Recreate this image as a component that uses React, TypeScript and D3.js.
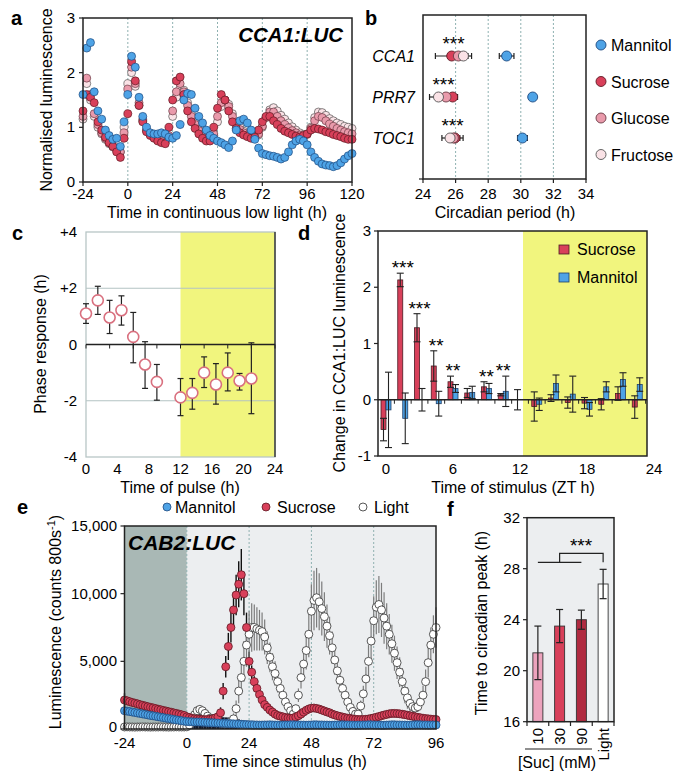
import React from 'react';
import * as d3 from 'd3';

const FONT = '"Liberation Sans", Arial, Helvetica, sans-serif';

// ---------- Panel a : CCA1:LUC normalised luminescence (t = -24..120, every 2 h)
const aTimes = d3.range(-24, 121, 2);
const aMannitol = [
  1.6, 2.45, 2.55, 1.65, 1.3, 1.15, 0.95, 0.85, 0.78, 0.8, 0.65, 1.1,
  1.6, 2.3, 2.1, 1.55, 1.2, 1.0, 0.9, 0.88, 0.88, 0.9, 0.88, 0.82,
  0.8, 0.85, 1.05, 1.5, 1.62, 1.6, 1.35, 1.2, 1.08, 0.95, 0.85, 0.8,
  0.75, 0.72, 0.68, 0.63, 0.75, 0.95, 1.12, 1.15, 1.08, 0.95, 0.78, 0.62,
  0.52, 0.5, 0.48, 0.47, 0.45, 0.42, 0.45, 0.55, 0.68, 0.75, 0.78, 0.75,
  0.68, 0.55, 0.45, 0.38, 0.33, 0.31, 0.3, 0.28, 0.3, 0.35, 0.42, 0.48,
  0.52,
];
const aSucrose = [
  1.3, 1.6, 1.55, 1.45, 1.1, 0.95, 0.82, 0.72, 0.65, 0.55, 0.45, 0.8,
  1.25, 2.2, 1.85, 1.4, 1.1, 0.92, 0.85, 0.8, 0.75, 0.72, 0.7, 1.0,
  1.5, 1.85, 1.92, 1.6, 1.3, 1.1, 0.98, 0.88, 0.8, 0.75, 0.75, 1.0,
  1.35, 1.6, 1.5, 1.3, 1.1, 0.98, 0.9, 0.86, 0.83, 0.8, 0.82, 0.95,
  1.1, 1.2, 1.2, 1.12, 1.05, 0.98, 0.93, 0.9, 0.87, 0.84, 0.82, 0.85,
  0.88, 0.95, 0.98, 0.97, 0.95, 0.92, 0.9, 0.87, 0.85, 0.83, 0.8, 0.78,
  0.78,
];
const aGlucose = [
  1.2, 1.9, 1.6, 1.25, 1.05, 0.9, 0.8, 0.72, 0.66, 0.6, 0.55, 0.9,
  1.7, 2.1, 1.8, 1.45, 1.15, 0.95, 0.87, 0.82, 0.78, 0.75, 0.72, 0.85,
  1.3, 1.65, 1.8, 1.65, 1.4, 1.2, 1.05, 0.94, 0.86, 0.8, 0.78, 0.88,
  1.2, 1.45, 1.5, 1.38, 1.2, 1.05, 0.96, 0.9, 0.86, 0.83, 0.82, 0.88,
  1.02, 1.18, 1.28, 1.28, 1.2, 1.12, 1.05, 0.99, 0.94, 0.9, 0.86, 0.84,
  0.87, 0.98, 1.12, 1.2, 1.18, 1.12, 1.06, 1.02, 0.98, 0.95, 0.92, 0.9,
  0.88,
];
const aFructose = [
  1.15, 1.8, 1.5, 1.2, 1.0, 0.88, 0.78, 0.7, 0.64, 0.6, 0.55, 1.0,
  1.8, 2.0, 1.75, 1.4, 1.12, 0.95, 0.88, 0.83, 0.8, 0.76, 0.74, 0.82,
  1.2, 1.55, 1.72, 1.68, 1.45, 1.25, 1.08, 0.96, 0.88, 0.82, 0.8, 0.85,
  1.1, 1.38, 1.5, 1.42, 1.25, 1.1, 1.0, 0.93, 0.88, 0.85, 0.83, 0.86,
  1.0, 1.18, 1.32, 1.36, 1.3, 1.22, 1.15, 1.08, 1.01, 0.95, 0.9, 0.87,
  0.88, 1.0, 1.18, 1.28, 1.27, 1.22, 1.16, 1.12, 1.08, 1.05, 1.02, 1.0,
  0.98,
];
const aTicksX = [-24, 0, 24, 48, 72, 96, 120];
const aTicksY = [0, 1, 2, 3];

// ---------- Panel b : circadian period
const bGenes = ['CCA1', 'PRR7', 'TOC1'];
const bSugars = ['Mannitol', 'Sucrose', 'Glucose', 'Fructose'];
const bMannitol = [29.13, 30.73, 30.1];
const bSucrose = [25.76, 25.82, 25.96];
const bGlucose = [26.17, 25.41, 25.86];
const bFructose = [26.48, 24.95, 25.66];
const bErrMannitol = [0.45, 0.15, 0.3];
const bErrSucrose = [1.0, 0.3, 0.5];
const bErrGlucose = [0.4, 0.3, 0.4];
const bErrFructose = [0.5, 0.55, 0.5];
const bTicksX = [24, 26, 28, 30, 32, 34];

// ---------- Panel c : phase response
const cTimes = [0, 1.5, 3, 4.5, 6, 7.5, 9, 12, 13.5, 15, 16.5, 18, 19.5, 21];
const cPhase = [1.1, 1.57, 0.96, 1.22, 0.27, -0.71, -1.33, -1.88, -1.72, -1.0, -1.42, -1.0, -1.29, -1.21];
const cErrHi = [1.45, 2.07, 1.57, 1.73, 1.14, 0.1, -0.71, -1.21, -1.21, -0.44, -0.68, -0.3, -1.03, 0.06];
const cErrLo = [0.75, 1.07, 0.39, 0.69, -0.65, -1.56, -1.98, -2.53, -2.3, -1.53, -2.12, -1.65, -1.62, -2.46];
const cTicksX = [0, 4, 8, 12, 16, 20, 24];
const cTicksY = [-4, -2, 0, 2, 4];
const cTickLabelsY = ['-4', '-2', '0', '+2', '+4'];

// ---------- Panel d : change in CCA1:LUC luminescence
const dTimes = [0, 1.5, 3, 4.5, 6, 7.5, 9, 10.5, 12, 13.5, 15, 16.5, 18, 19.5, 21, 22.5];
const dSucrose = [-0.53, 2.13, 1.28, 0.6, 0.32, 0.12, 0.23, 0.09, 0.0, -0.12, 0.03, -0.05, -0.06, -0.08, 0.11, -0.13];
const dSucroseErr = [0.2, 0.12, 0.25, 0.27, 0.1, 0.08, 0.09, 0.02, 0.18, 0.26, 0.06, 0.1, 0.1, 0.1, 0.12, 0.2];
const dMannitol = [-0.18, -0.33, 0.0, -0.07, 0.2, 0.13, 0.2, 0.15, 0.0, -0.08, 0.29, 0.1, -0.17, 0.23, 0.36, 0.27];
const dMannitolErr = [0.67, 0.45, 0.2, 0.22, 0.07, 0.11, 0.09, 0.27, 0, 0.11, 0.15, 0.32, 0.12, 0.09, 0.12, 0.12];
const dStars = ['', '***', '***', '**', '**', '', '**', '**', '', '', '', '', '', '', '', ''];
const dTicksX = [0, 6, 12, 18, 24];
const dTicksY = [-1, 0, 1, 2, 3];

// ---------- Panel e : CAB2:LUC luminescence (t = -24..96, hourly)
const eTimes = d3.range(-24, 97, 1);
const eMannitol = [
  1350, 1320, 1290, 1250, 1220, 1180, 1150, 1110, 1080, 1040, 1000, 970,
  940, 900, 870, 840, 800, 770, 740, 700, 670, 640, 610, 580,
  550, 540, 530, 520, 520, 510, 500, 490, 480, 470, 460, 450,
  440, 430, 420, 410, 400, 390, 380, 370, 360, 350, 340, 330,
  320, 310, 300, 300, 290, 290, 300, 300, 310, 300, 290, 290,
  280, 290, 300, 300, 310, 310, 300, 300, 290, 290, 280, 290,
  300, 310, 310, 300, 300, 290, 290, 280, 280, 290, 300, 300,
  310, 300, 300, 290, 290, 280, 290, 290, 300, 300, 310, 310,
  300, 290, 290, 280, 280, 290, 300, 310, 310, 300, 300, 290,
  290, 280, 290, 300, 310, 320, 310, 300, 300, 290, 290, 300,
  300,
];
const eMannitolErr = [
  80, 80, 80, 80, 80, 80, 80, 80, 80, 80, 80, 80,
  80, 80, 80, 80, 80, 80, 80, 80, 80, 80, 80, 80,
  500, 550, 600, 700, 800, 850, 800, 700, 600, 550, 500, 480,
  460, 450, 450, 450, 450, 450, 450, 400, 350, 300, 250, 200,
  60, 60, 60, 60, 60, 60, 60, 60, 60, 60, 60, 60,
  60, 60, 60, 60, 60, 60, 60, 60, 60, 60, 60, 60,
  60, 60, 60, 60, 60, 60, 60, 60, 60, 60, 60, 60,
  60, 60, 60, 60, 60, 60, 60, 60, 60, 60, 60, 60,
  60, 60, 60, 60, 60, 60, 60, 60, 60, 60, 60, 60,
  60, 60, 60, 60, 60, 60, 60, 60, 60, 60, 60, 60,
  60,
];
const eSucrose = [
  2140, 2080, 2020, 1960, 1910, 1860, 1800, 1750, 1700, 1650, 1600, 1560,
  1510, 1460, 1420, 1370, 1330, 1280, 1240, 1190, 1150, 1100, 1050, 1000,
  900, 850, 800, 760, 740, 720, 700, 690, 700, 720, 760, 820,
  900, 1200, 2800, 4600, 6100, 7500, 8800, 9900, 10700, 11400, 10000, 7500,
  5000, 4200, 3500, 3000, 2550, 2150, 1800, 1600, 1400, 1250, 1100, 1000,
  950, 900, 850, 820, 800, 820, 880, 980, 1100, 1250, 1380, 1480,
  1540, 1550, 1520, 1470, 1400, 1330, 1260, 1200, 1100, 1040, 980, 930,
  880, 840, 800, 770, 740, 720, 700, 700, 700, 720, 740, 780,
  820, 870, 920, 980, 1030, 1080, 1120, 1150, 1150, 1140, 1120, 1090,
  1060, 1020, 980, 940, 900, 860, 830, 800, 770, 750, 730, 710,
  700,
];
const eSucroseErr = [
  500, 200, 150, 150, 150, 150, 150, 150, 150, 150, 150, 150,
  150, 150, 150, 150, 150, 150, 150, 150, 150, 150, 150, 150,
  300, 300, 300, 300, 300, 300, 300, 300, 300, 300, 300, 300,
  300, 400, 600, 800, 1000, 1100, 1300, 1500, 1700, 1900, 1600, 1100,
  700, 500, 400, 300, 250, 200, 200, 150, 150, 150, 150, 150,
  150, 150, 150, 150, 150, 150, 150, 150, 150, 150, 150, 150,
  150, 150, 150, 150, 150, 150, 150, 150, 150, 150, 150, 150,
  150, 150, 150, 150, 150, 150, 150, 150, 150, 150, 150, 150,
  150, 150, 150, 150, 150, 150, 150, 150, 150, 150, 150, 150,
  150, 150, 150, 150, 150, 150, 150, 150, 150, 150, 150, 150,
  150,
];
const eLight = [
  150, 160, 150, 150, 140, 150, 150, 160, 150, 150, 140, 150,
  150, 150, 160, 150, 150, 140, 150, 150, 160, 150, 150, 150,
  160, 300, 650, 1050, 1350, 1450, 1350, 1150, 950, 800, 680, 580,
  500, 440, 400, 380, 420, 550, 750, 1500, 2800, 3800, 5000, 6200,
  7000, 7500, 7500, 7400, 7300, 7200, 6800, 6000, 5300, 4600, 4100, 3500,
  3000, 2500, 2000, 1650, 1350, 1100, 1500, 2500, 3800, 4800, 5800, 7000,
  8700, 9500, 9700, 9400, 8900, 8300, 7600, 6900, 6000, 5100, 4300, 3600,
  3000, 2500, 2000, 1600, 1300, 1100, 1100, 1700, 2600, 3700, 5000, 6500,
  8000, 9000, 9200, 8800, 8200, 7600, 7000, 6300, 5600, 4900, 4200, 3500,
  2800, 2300, 1900, 1650, 1550, 1650, 2000, 2500, 3500, 4900, 6200, 7000,
  7500,
];
const eLightErr = [
  0, 0, 0, 0, 0, 0, 0, 0, 0, 0, 0, 0,
  0, 0, 0, 0, 0, 0, 0, 0, 0, 0, 0, 0,
  50, 100, 150, 250, 300, 300, 250, 200, 150, 120, 100, 100,
  80, 80, 80, 100, 150, 250, 400, 600, 900, 1200, 1500, 1600,
  1700, 1800, 1700, 1600, 1500, 1400, 1300, 1200, 1100, 1000, 900, 800,
  700, 600, 500, 400, 300, 250, 300, 500, 800, 1100, 1400, 1700,
  2000, 2200, 2200, 2100, 2000, 1800, 1600, 1400, 1200, 1100, 1000, 900,
  800, 700, 600, 500, 400, 300, 300, 400, 600, 900, 1200, 1500,
  1800, 2000, 2100, 2000, 1900, 1700, 1500, 1400, 1300, 1200, 1100, 1000,
  900, 800, 600, 500, 400, 400, 500, 700, 900, 1100, 1300, 1400,
  1500,
];
const eTicksX = [-24, 0, 24, 48, 72, 96];
const eTicksY = [0, 5000, 10000, 15000];

// ---------- Panel f : time to circadian peak
const fCats = ['10', '30', '90', 'Light'];
const fValues = [21.4, 23.5, 24.0, 26.8];
const fErr = [2.1, 1.3, 0.75, 1.15];
const fTicksY = [16, 20, 24, 28, 32];

// ---------- colours
const COL = {
  Mannitol: '#4ea3e6',
  Sucrose: '#d8405a',
  Glucose: '#e99aab',
  Fructose: '#fae2e6',
};
const STROKE = {
  Mannitol: '#1e4a80',
  Sucrose: '#5e1822',
  Glucose: '#6a3a44',
  Fructose: '#555555',
};
const YELLOW = '#f1f57e';
const fColors = ['#eca3bd', '#d8405a', '#b02a40', '#ffffff'];

const fmt = d3.format(',');

export default function App() {
  // scales
  const xa = d3.scaleLinear().domain([-24, 120]).range([83, 352]);
  const ya = d3.scaleLinear().domain([0, 3]).range([182, 18]);
  const xb = d3.scaleLinear().domain([24, 34]).range([423, 586]);
  const yb = d3.scalePoint<string>().domain(bGenes).range([15, 179]).padding(1);
  const xc = d3.scaleLinear().domain([0, 24]).range([86, 275]);
  const yc = d3.scaleLinear().domain([-4, 4]).range([457, 232]);
  const xd = d3.scaleLinear().domain([0, 24]).range([386, 654]);
  const yd = d3.scaleLinear().domain([-1, 3]).range([456, 231]);
  const xe = d3.scaleLinear().domain([-24, 96]).range([124.5, 436]);
  const ye = d3.scaleLinear().domain([0, 15000]).range([729, 526]);
  const xf = d3.scaleBand<string>().domain(fCats).range([527, 614]).paddingInner(0.54).paddingOuter(0.27);
  const yf = d3.scaleLinear().domain([16, 32]).range([721.7, 517.7]);

  const aSeries = [
    { name: 'Fructose', v: aFructose },
    { name: 'Glucose', v: aGlucose },
    { name: 'Sucrose', v: aSucrose },
    { name: 'Mannitol', v: aMannitol },
  ];
  const bSeries = [
    { name: 'Sucrose', v: bSucrose, e: bErrSucrose },
    { name: 'Glucose', v: bGlucose, e: bErrGlucose },
    { name: 'Fructose', v: bFructose, e: bErrFructose },
    { name: 'Mannitol', v: bMannitol, e: bErrMannitol },
  ];

  const bw = 5; // bar width in panel d
  const fBounds = d3.range(0, 5).map((k) => 527 + (k * (614 - 527)) / 4);

  return (
    <svg width={675} height={773} style={{ position: 'absolute', left: 0, top: 0, background: '#fff' }} fontFamily={FONT}>
      {/* ================= Panel a ================= */}
      <g>
        {[0, 24, 48, 72, 96].map((t) => (
          <line key={t} x1={xa(t)} x2={xa(t)} y1={18} y2={182} stroke="#8fb1b1" strokeWidth={1} strokeDasharray="2,2" />
        ))}
        {aSeries.map((s) => (
          <g key={s.name}>
            {s.v.map((v, i) => (
              <circle key={i} cx={xa(aTimes[i])} cy={ya(v)} r={4} fill={(COL as any)[s.name]} stroke={(STROKE as any)[s.name]} strokeWidth={0.7} />
            ))}
          </g>
        ))}
        <rect x={83} y={18} width={352 - 83} height={182 - 18} fill="none" stroke="#222" strokeWidth={1.5} />
        {aTicksX.map((t) => (
          <g key={t}>
            <line x1={xa(t)} x2={xa(t)} y1={182} y2={186} stroke="#222" strokeWidth={1.2} />
            <text x={xa(t)} y={199} fontSize={15} textAnchor="middle">{t}</text>
          </g>
        ))}
        {aTicksY.map((v) => (
          <g key={v}>
            <line x1={79} x2={83} y1={ya(v)} y2={ya(v)} stroke="#222" strokeWidth={1.2} />
            <text x={75} y={ya(v) + 5} fontSize={15} textAnchor="end">{v}</text>
          </g>
        ))}
        <text x={217} y={218} fontSize={16} textAnchor="middle">Time in continuous low light (h)</text>
        <text transform="translate(52,100) rotate(-90)" fontSize={16} textAnchor="middle">Normalised luminescence</text>
        <text x={343} y={42} fontSize={20.5} fontWeight="bold" fontStyle="italic" textAnchor="end">CCA1:LUC</text>
        <text x={11} y={25} fontSize={20} fontWeight="bold">a</text>
      </g>

      {/* ================= Panel b ================= */}
      <g>
        {[26, 28, 30, 32].map((t) => (
          <line key={t} x1={xb(t)} x2={xb(t)} y1={15} y2={179} stroke="#8fb1b1" strokeWidth={1} strokeDasharray="2,2" />
        ))}
        {bSeries.map((s) => (
          <g key={'e' + s.name}>
            {s.v.map((v, i) => {
              const y = yb(bGenes[i])!;
              return (
                <g key={i}>
                  <line x1={xb(v - s.e[i])} x2={xb(v + s.e[i])} y1={y} y2={y} stroke="#222" strokeWidth={1.2} />
                  <line x1={xb(v - s.e[i])} x2={xb(v - s.e[i])} y1={y - 3} y2={y + 3} stroke="#222" strokeWidth={1.2} />
                  <line x1={xb(v + s.e[i])} x2={xb(v + s.e[i])} y1={y - 3} y2={y + 3} stroke="#222" strokeWidth={1.2} />
                </g>
              );
            })}
          </g>
        ))}
        {bSeries.map((s) => (
          <g key={'p' + s.name}>
            {s.v.map((v, i) => (
              <circle key={i} cx={xb(v)} cy={yb(bGenes[i])!} r={5} fill={(COL as any)[s.name]} stroke={(STROKE as any)[s.name]} strokeWidth={0.9} />
            ))}
          </g>
        ))}
        {bGenes.map((g, i) => {
          const hi = d3.max(bSeries.filter((s) => s.name !== 'Mannitol'), (s) => s.v[i] + s.e[i])!;
          const lo = d3.min(bSeries.filter((s) => s.name !== 'Mannitol'), (s) => s.v[i] - s.e[i])!;
          return (
            <g key={g}>
              <text x={415} y={yb(g)! + 6} fontSize={16} fontStyle="italic" textAnchor="end">{g}</text>
              <text x={xb((hi + lo) / 2)} y={yb(g)! - 6} fontSize={19} textAnchor="middle">***</text>
            </g>
          );
        })}
        <rect x={423} y={15} width={586 - 423} height={179 - 15} fill="none" stroke="#222" strokeWidth={1.5} />
        {bTicksX.map((t) => (
          <g key={t}>
            <line x1={xb(t)} x2={xb(t)} y1={179} y2={183} stroke="#222" strokeWidth={1.2} />
            <text x={xb(t)} y={199} fontSize={15} textAnchor="middle">{t}</text>
          </g>
        ))}
        <line x1={419} x2={423} y1={179} y2={179} stroke="#222" strokeWidth={1.2} />
        <text x={505} y={218} fontSize={16} textAnchor="middle">Circadian period (h)</text>
        {bSugars.map((s, i) => (
          <g key={s}>
            <circle cx={601} cy={45 + i * 36.5} r={5} fill={(COL as any)[s]} stroke={(STROKE as any)[s]} strokeWidth={0.9} />
            <text x={611} y={45 + i * 36.5 + 6} fontSize={16}>{s}</text>
          </g>
        ))}
        <text x={365} y={25} fontSize={20} fontWeight="bold">b</text>
      </g>

      {/* ================= Panel c ================= */}
      <g>
        <rect x={xc(12)} y={232} width={275 - xc(12)} height={457 - 232} fill={YELLOW} />
        {[2, -2].map((v) => (
          <line key={v} x1={86} x2={275} y1={yc(v)} y2={yc(v)} stroke="#b3c3c3" strokeWidth={1.2} />
        ))}
        <rect x={86} y={232} width={275 - 86} height={457 - 232} fill="none" stroke="#b8c6c6" strokeWidth={1.3} />
        <line x1={275} x2={275} y1={232} y2={457} stroke="#222" strokeWidth={1.3} />
        <line x1={86} x2={275} y1={yc(0)} y2={yc(0)} stroke="#222" strokeWidth={1.3} />
        {d3.range(0, 25, 3).map((t) => (
          <line key={t} x1={xc(t)} x2={xc(t)} y1={yc(0)} y2={yc(0) + 4} stroke="#222" strokeWidth={1} />
        ))}
        {cTimes.map((t, i) => (
          <g key={i}>
            <line x1={xc(t)} x2={xc(t)} y1={yc(cErrHi[i])} y2={yc(cErrLo[i])} stroke="#222" strokeWidth={1.2} />
            <line x1={xc(t) - 3} x2={xc(t) + 3} y1={yc(cErrHi[i])} y2={yc(cErrHi[i])} stroke="#222" strokeWidth={1.2} />
            <line x1={xc(t) - 3} x2={xc(t) + 3} y1={yc(cErrLo[i])} y2={yc(cErrLo[i])} stroke="#222" strokeWidth={1.2} />
          </g>
        ))}
        {cTimes.map((t, i) => (
          <circle key={i} cx={xc(t)} cy={yc(cPhase[i])} r={5.5} fill="#fff" stroke="#d9707f" strokeWidth={1.6} />
        ))}
        {cTicksX.map((t) => (
          <text key={t} x={xc(t)} y={474} fontSize={15} textAnchor="middle">{t}</text>
        ))}
        {cTicksY.map((v, i) => (
          <text key={v} x={77} y={yc(v) + 5} fontSize={15} textAnchor="end">{cTickLabelsY[i]}</text>
        ))}
        <text x={180} y={493} fontSize={16} textAnchor="middle">Time of pulse (h)</text>
        <text transform="translate(46,344) rotate(-90)" fontSize={16} textAnchor="middle">Phase response (h)</text>
        <text x={12} y={240} fontSize={20} fontWeight="bold">c</text>
      </g>

      {/* ================= Panel d ================= */}
      <g>
        <rect x={xd(12) + 3} y={231} width={647 - xd(12) - 3} height={456 - 231} fill={YELLOW} />
        {dTimes.map((t, i) => {
          const cx = xd(t);
          const s = dSucrose[i];
          const m = dMannitol[i];
          return (
            <g key={i}>
              <rect x={cx - bw} y={Math.min(yd(s), yd(0))} width={bw} height={Math.abs(yd(s) - yd(0))} fill={COL.Sucrose} stroke="#4a1a22" strokeWidth={0.8} />
              <rect x={cx} y={Math.min(yd(m), yd(0))} width={bw} height={Math.abs(yd(m) - yd(0))} fill={COL.Mannitol} stroke="#1e3f6a" strokeWidth={0.8} />
            </g>
          );
        })}
        {dTimes.map((t, i) => {
          const items = [
            { c: xd(t) - bw / 2, v: dSucrose[i], e: dSucroseErr[i] },
            { c: xd(t) + bw / 2, v: dMannitol[i], e: dMannitolErr[i] },
          ];
          return (
            <g key={i}>
              {items.filter((it) => it.e > 0).map((it, j) => (
                <g key={j}>
                  <line x1={it.c} x2={it.c} y1={yd(it.v + it.e)} y2={yd(it.v - it.e)} stroke="#222" strokeWidth={1.1} />
                  <line x1={it.c - 3.5} x2={it.c + 3.5} y1={yd(it.v + it.e)} y2={yd(it.v + it.e)} stroke="#222" strokeWidth={1.1} />
                  <line x1={it.c - 3.5} x2={it.c + 3.5} y1={yd(it.v - it.e)} y2={yd(it.v - it.e)} stroke="#222" strokeWidth={1.1} />
                </g>
              ))}
              {dStars[i] && (
                <text x={xd(t)} y={yd(Math.max(dSucrose[i] + dSucroseErr[i], dMannitol[i] + dMannitolErr[i])) + 1} fontSize={19} textAnchor="middle">{dStars[i]}</text>
              )}
            </g>
          );
        })}
        <line x1={378} x2={647} y1={yd(0)} y2={yd(0)} stroke="#222" strokeWidth={1.3} />
        {dTimes.map((t, i) => (
          <line key={i} x1={xd(t) + 8.4} x2={xd(t) + 8.4} y1={yd(0)} y2={yd(0) + 4} stroke="#222" strokeWidth={1} />
        ))}
        <rect x={378} y={231} width={647 - 378} height={456 - 231} fill="none" stroke="#222" strokeWidth={1.5} />
        {dTicksY.map((v) => (
          <g key={v}>
            <line x1={374} x2={378} y1={yd(v)} y2={yd(v)} stroke="#222" strokeWidth={1.2} />
            <text x={371} y={yd(v) + 5} fontSize={15} textAnchor="end">{v}</text>
          </g>
        ))}
        {dTicksX.map((t) => (
          <text key={t} x={xd(t)} y={474} fontSize={15} textAnchor="middle">{t}</text>
        ))}
        <text x={513} y={493} fontSize={16} textAnchor="middle">Time of stimulus (ZT h)</text>
        <text transform="translate(345,343) rotate(-90)" fontSize={16} textAnchor="middle">Change in CCA1:LUC luminescence</text>
        <rect x={559} y={245} width={10} height={9} fill={COL.Sucrose} stroke="#4a1a22" strokeWidth={0.8} />
        <text x={577} y={255} fontSize={16}>Sucrose</text>
        <rect x={559} y={273} width={10} height={9} fill={COL.Mannitol} stroke="#1e3f6a" strokeWidth={0.8} />
        <text x={577} y={283} fontSize={16}>Mannitol</text>
        <text x={298} y={240} fontSize={20} fontWeight="bold">d</text>
      </g>

      {/* ================= Panel e ================= */}
      <g>
        <rect x={xe(-24)} y={526} width={xe(0) - xe(-24)} height={729 - 526} fill="#a9b8b5" />
        <rect x={xe(0)} y={526} width={xe(96) - xe(0)} height={729 - 526} fill="#eceef0" />
        {[0, 24, 48, 72].map((t) => (
          <line key={t} x1={xe(t)} x2={xe(t)} y1={526} y2={729} stroke="#8fb1b1" strokeWidth={1} strokeDasharray="2,2" />
        ))}
        {eTimes.map((t, i) => (
          <line key={'me' + i} x1={xe(t)} x2={xe(t)} y1={ye(Math.max(0, eMannitol[i] - eMannitolErr[i]))} y2={ye(eMannitol[i] + eMannitolErr[i])} stroke="#141a2c" strokeWidth={2.6} />
        ))}
        {eTimes.map((t, i) => (
          <line key={'se' + i} x1={xe(t)} x2={xe(t)} y1={ye(Math.max(0, eSucrose[i] - eSucroseErr[i]))} y2={ye(eSucrose[i] + eSucroseErr[i])} stroke="#111" strokeWidth={1.4} />
        ))}
        {eTimes.map((t, i) =>
          eLightErr[i] > 0 ? (
            <line key={'le' + i} x1={xe(t)} x2={xe(t)} y1={ye(Math.max(0, eLight[i] - eLightErr[i]))} y2={ye(eLight[i] + eLightErr[i])} stroke="#7c7c7c" strokeWidth={1.2} />
          ) : null
        )}
        {eTimes.map((t, i) => (
          <circle key={'l' + i} cx={xe(t)} cy={ye(eLight[i])} r={4} fill="#fff" stroke="#444" strokeWidth={0.9} />
        ))}
        {eTimes.map((t, i) => (
          <circle key={'s' + i} cx={xe(t)} cy={ye(eSucrose[i])} r={4} fill={COL.Sucrose} stroke={STROKE.Sucrose} strokeWidth={0.8} />
        ))}
        {eTimes.map((t, i) => (
          <circle key={'m' + i} cx={xe(t)} cy={ye(eMannitol[i])} r={4} fill={COL.Mannitol} stroke={STROKE.Mannitol} strokeWidth={0.8} />
        ))}
        <rect x={124.5} y={526} width={436 - 124.5} height={729 - 526} fill="none" stroke="#222" strokeWidth={1.5} />
        {eTicksY.map((v) => (
          <g key={v}>
            <line x1={120.5} x2={124.5} y1={ye(v)} y2={ye(v)} stroke="#222" strokeWidth={1.2} />
            <text x={117} y={ye(v) + (v === 0 ? 3 : 5)} fontSize={15} textAnchor="end">{fmt(v)}</text>
          </g>
        ))}
        {eTicksX.map((t) => (
          <text key={t} x={xe(t)} y={748} fontSize={15} textAnchor="middle">{t}</text>
        ))}
        <text x={285} y={767} fontSize={16} textAnchor="middle">Time since stimulus (h)</text>
        <text transform="translate(61,622) rotate(-90)" fontSize={16} textAnchor="middle">
          <tspan>Luminescence (counts 800s</tspan>
          <tspan dy={-6} fontSize={11}>-1</tspan>
          <tspan dy={6}>)</tspan>
        </text>
        <text x={128} y={550} fontSize={21} fontWeight="bold" fontStyle="italic">CAB2:LUC</text>
        <circle cx={167} cy={507} r={4} fill={COL.Mannitol} stroke={STROKE.Mannitol} strokeWidth={0.8} />
        <text x={175} y={513} fontSize={16}>Mannitol</text>
        <circle cx={266} cy={507} r={4} fill={COL.Sucrose} stroke={STROKE.Sucrose} strokeWidth={0.8} />
        <text x={277} y={513} fontSize={16}>Sucrose</text>
        <circle cx={363} cy={507} r={4} fill="#fff" stroke="#444" strokeWidth={0.9} />
        <text x={374} y={513} fontSize={16}>Light</text>
        <text x={17} y={514} fontSize={20} fontWeight="bold">e</text>
      </g>

      {/* ================= Panel f ================= */}
      <g>
        <rect x={527} y={517.7} width={614 - 527} height={721.7 - 517.7} fill="#eceef0" />
        {fCats.map((c, i) => (
          <rect key={c} x={xf(c)!} y={yf(fValues[i])} width={xf.bandwidth()} height={yf(16) - yf(fValues[i])} fill={fColors[i]} stroke="#333" strokeWidth={0.9} />
        ))}
        {fCats.map((c, i) => {
          const cx = xf(c)! + xf.bandwidth() / 2;
          return (
            <g key={c}>
              <line x1={cx} x2={cx} y1={yf(fValues[i] + fErr[i])} y2={yf(fValues[i] - fErr[i])} stroke="#222" strokeWidth={1.2} />
              <line x1={cx - 3.5} x2={cx + 3.5} y1={yf(fValues[i] + fErr[i])} y2={yf(fValues[i] + fErr[i])} stroke="#222" strokeWidth={1.2} />
              <line x1={cx - 3.5} x2={cx + 3.5} y1={yf(fValues[i] - fErr[i])} y2={yf(fValues[i] - fErr[i])} stroke="#222" strokeWidth={1.2} />
              <text transform={`translate(${cx + 5.5},728) rotate(-90)`} fontSize={15} textAnchor="end">{c}</text>
            </g>
          );
        })}
        <rect x={527} y={517.7} width={614 - 527} height={721.7 - 517.7} fill="none" stroke="#222" strokeWidth={1.5} />
        {fBounds.map((x, k) => (
          <line key={k} x1={x} x2={x} y1={721.7} y2={726} stroke="#222" strokeWidth={1.2} />
        ))}
        {fTicksY.map((v) => (
          <g key={v}>
            <line x1={523} x2={527} y1={yf(v)} y2={yf(v)} stroke="#222" strokeWidth={1.2} />
            <text x={520} y={yf(v) + 5} fontSize={15} textAnchor="end">{v}</text>
          </g>
        ))}
        {/* significance bracket */}
        <line x1={xf('10')! + xf.bandwidth() / 2} x2={xf('90')! + xf.bandwidth() / 2} y1={562.3} y2={562.3} stroke="#222" strokeWidth={1.2} />
        <path d={`M${xf('30')! + xf.bandwidth() / 2},562.3 V553.3 H${xf('Light')! + xf.bandwidth() / 2} V562.3`} fill="none" stroke="#222" strokeWidth={1.2} />
        <text x={581} y={552} fontSize={19} textAnchor="middle">***</text>
        <line x1={525} x2={592} y1={749} y2={749} stroke="#222" strokeWidth={1.2} />
        <text x={557} y={768} fontSize={16} textAnchor="middle">[Suc] (mM)</text>
        <text transform="translate(487,623) rotate(-90)" fontSize={16} textAnchor="middle">Time to circadian peak (h)</text>
        <text x={447} y={516} fontSize={20} fontWeight="bold">f</text>
      </g>
    </svg>
  );
}
